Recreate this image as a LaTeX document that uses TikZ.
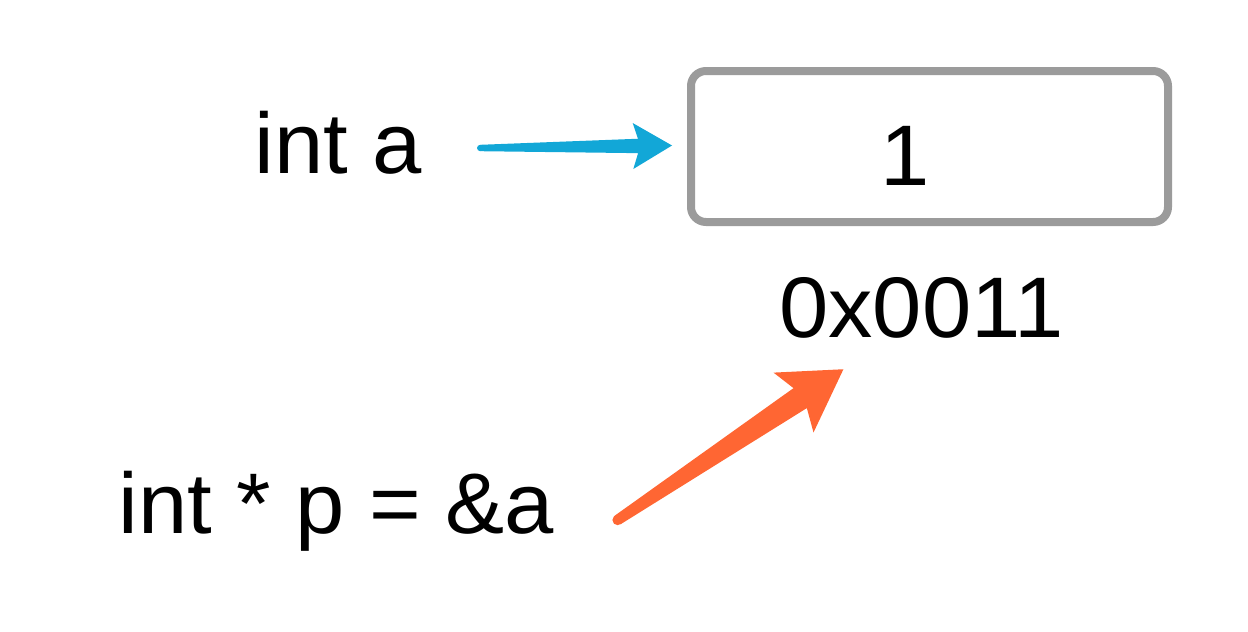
\documentclass[tikz,border=0pt]{standalone}
\usepackage{fontspec}
\setmainfont[FakeStretch=1.03]{Liberation Sans}
\usetikzlibrary{calc}
\definecolor{arrblue}{HTML}{12A7D7}
\definecolor{arrorange}{HTML}{FF6633}
\definecolor{boxgray}{HTML}{9B9B9B}
\begin{document}
\begin{tikzpicture}[x=0.5pt,y=-0.5pt,
  lbl/.style={inner sep=0pt,anchor=base west,font=\fontsize{43}{50}\selectfont},
  cell/.style={draw=boxgray,line width=4pt,rounded corners=7.5pt,minimum width=238.5pt,minimum height=75.5pt,inner sep=0pt}]
\useasboundingbox (0,0) rectangle (1248,632);
\node[lbl] (inta) at (254,173) {int a};
\node[cell] (box) at (929.5,146.5) {};
\node[lbl] (one) at (880,185) {1};
\node[lbl] (addr) at (779,337) {0x0011};
\node[lbl] (ptr) at (118,533) {int * p = \&a};
% blue arrow
\coordinate (bt) at ($(inta.base east)+(58,-25)$);
\coordinate (bh) at ($(box.west)+(-15,-1)$);
\coordinate (bn) at ($(bh)!17pt!(bt)$);
\coordinate (bb) at ($(bh)!19.5pt!(bt)$);
\fill[arrblue] ($(bt)!1.6pt!90:(bh)$) -- ($(bn)!3.6pt!-90:(bt)$) -- ($(bb)!11.5pt!-90:(bt)$) -- (bh)
  -- ($(bb)!11.5pt!90:(bt)$) -- ($(bn)!3.6pt!90:(bt)$) -- ($(bt)!1.6pt!-90:(bh)$) -- cycle;
\fill[arrblue] (bt) circle (1.6pt);
% orange arrow
\coordinate (ot) at ($(ptr.base east)+(63,-13)$);
\coordinate (oh) at ($(addr.south)+(-78,31)$);
\coordinate (on) at ($(oh)!26pt!(ot)$);
\coordinate (ob) at ($(oh)!30pt!(ot)$);
\fill[arrorange] ($(ot)!2.6pt!90:(oh)$) -- ($(on)!6pt!-90:(ot)$) -- ($(ob)!18pt!-90:(ot)$) -- (oh)
  -- ($(ob)!18pt!90:(ot)$) -- ($(on)!6pt!90:(ot)$) -- ($(ot)!2.6pt!-90:(oh)$) -- cycle;
\fill[arrorange] (ot) circle (2.6pt);
\end{tikzpicture}
\end{document}
